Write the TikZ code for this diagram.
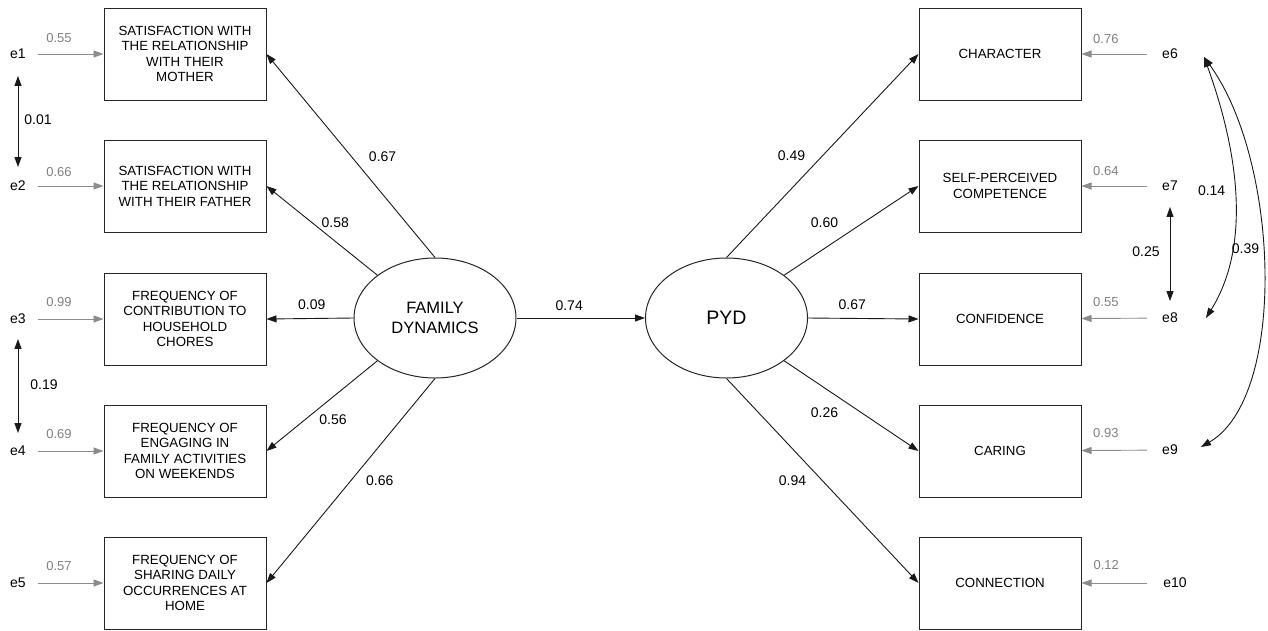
\documentclass[tikz,border=0pt]{standalone}
\usepackage{fontspec}
\setmainfont{Liberation Sans}
\usetikzlibrary{shapes.geometric,arrows.meta}
\begin{document}
\begin{tikzpicture}[x=1pt,y=-1pt,
  box/.style={draw=black!85, line width=1pt, minimum width=162pt, minimum height=92pt, inner sep=0pt, align=center, font=\fontsize{13.3}{15.6}\selectfont},
  lat/.style={draw=black!85, line width=1pt, ellipse, minimum width=162pt, minimum height=120pt, inner sep=0pt, align=center},
  err/.style={inner sep=2pt, text height=9.5pt, text depth=0pt, font=\fontsize{14}{15}\selectfont},
  tip/.tip={Triangle[length=10pt,width=7pt]},
  arr/.style={line width=0.9pt, draw=black!90, -tip},
  garr/.style={line width=0.9pt, draw=black!45, -tip},
  dbl/.style={line width=0.9pt, draw=black!90, tip-tip},
  lbl/.style={font=\fontsize{14}{15}\selectfont, inner sep=0pt},
  glbl/.style={font=\fontsize{13}{14}\selectfont, text=black!50, inner sep=0pt},
]
\useasboundingbox (0,0) rectangle (1268,630);
\fill[white] (0,0) rectangle (1268,630);

% latent variables
\node[lat, font=\fontsize{16.5}{20}\selectfont] (fd) at (435,318) {FAMILY\\DYNAMICS};
\node[lat, font=\fontsize{19.5}{22}\selectfont] (pyd) at (726.5,318) {PYD};

% left indicators
\node[box] (b1) at (185,54) {SATISFACTION WITH\\THE RELATIONSHIP\\WITH THEIR\\MOTHER};
\node[box] (b2) at (185,186) {SATISFACTION WITH\\THE RELATIONSHIP\\WITH THEIR FATHER};
\node[box] (b3) at (185,319) {FREQUENCY OF\\CONTRIBUTION TO\\HOUSEHOLD\\CHORES};
\node[box] (b4) at (185,451) {FREQUENCY OF\\ENGAGING IN\\FAMILY ACTIVITIES\\ON WEEKENDS};
\node[box] (b5) at (185,583) {FREQUENCY OF\\SHARING DAILY\\OCCURRENCES AT\\HOME};

% right indicators
\node[box] (b6) at (1000,54) {CHARACTER};
\node[box] (b7) at (1000,186) {SELF-PERCEIVED\\COMPETENCE};
\node[box] (b8) at (1000,319) {CONFIDENCE};
\node[box] (b9) at (1000,451) {CARING};
\node[box] (b10) at (1000,583) {CONNECTION};

% error terms
\node[err] (e1) at (18,54) {e1};
\node[err] (e2) at (18,186) {e2};
\node[err] (e3) at (18,319) {e3};
\node[err] (e4) at (18,451) {e4};
\node[err] (e5) at (18,583) {e5};
\node[err] (e6) at (1170,54) {e6};
\node[err] (e7) at (1170,186) {e7};
\node[err] (e8) at (1170,318) {e8};
\node[err] (e9) at (1170,450) {e9};
\node[err] (e10) at (1175,583) {e10};

% loadings
\draw[arr] (fd.north) -- (b1.east) node[lbl,pos=0.495,xshift=31pt] (l1) {0.67};
\draw[arr] (fd.north west) -- (b2.east) node[lbl,pos=0.38,yshift=19pt] (l2) {0.58};
\draw[arr] (fd.west) -- (b3.east) node[lbl,pos=0.48,yshift=14pt] (l3) {0.09};
\draw[arr] (fd.south west) -- (b4.east) node[lbl,pos=0.4,yshift=-23pt] (l4) {0.56};
\draw[arr] (fd.south) -- (b5.east) node[lbl,pos=0.5,xshift=29pt] (l5) {0.66};
\draw[arr] (fd.east) -- (pyd.west) node[lbl,pos=0.41,yshift=12pt] (l0) {0.74};
\draw[arr] (pyd.north) -- (b6.west) node[lbl,pos=0.5,xshift=-31pt] (l6) {0.49};
\draw[arr] (pyd.north east) -- (b7.west) node[lbl,pos=0.3,yshift=26pt] (l7) {0.60};
\draw[arr] (pyd.east) -- (b8.west) node[lbl,pos=0.4,yshift=14pt] (l8) {0.67};
\draw[arr] (pyd.south east) -- (b9.west) node[lbl,pos=0.3,yshift=-25pt] (l9) {0.26};
\draw[arr] (pyd.south) -- (b10.west) node[lbl,pos=0.5,xshift=-30pt] (l10) {0.94};

% error arrows
\draw[garr, shorten <=10pt] (e1) -- (b1) node[glbl,pos=0.41,yshift=16pt] (g1) {0.55};
\draw[garr, shorten <=10pt] (e2) -- (b2) node[glbl,pos=0.41,yshift=14pt] (g2) {0.66};
\draw[garr, shorten <=10pt] (e3) -- (b3) node[glbl,pos=0.41,yshift=17pt] (g3) {0.99};
\draw[garr, shorten <=10pt] (e4) -- (b4) node[glbl,pos=0.41,yshift=17pt] (g4) {0.69};
\draw[garr, shorten <=10pt] (e5) -- (b5) node[glbl,pos=0.41,yshift=17pt] (g5) {0.57};
\draw[garr, shorten <=13pt] (e6) -- (b6) node[glbl,pos=0.69,yshift=15pt] (g6) {0.76};
\draw[garr, shorten <=13pt] (e7) -- (b7) node[glbl,pos=0.69,yshift=15pt] (g7) {0.64};
\draw[garr, shorten <=13pt] (e8) -- (b8) node[glbl,pos=0.69,yshift=16pt] (g8) {0.55};
\draw[garr, shorten <=13pt] (e9) -- (b9) node[glbl,pos=0.69,yshift=17pt] (g9) {0.93};
\draw[garr, shorten <=14pt] (e10) -- (b10) node[glbl,pos=0.69,yshift=18pt] (g10) {0.12};

% covariances
\draw[dbl, shorten <=15pt, shorten >=12pt] (e1.south) -- (e2.north) node[lbl,pos=0.5,xshift=20pt] (c12) {0.01};
\draw[dbl, shorten <=13pt, shorten >=11pt] (e3.south) -- (e4.north) node[lbl,pos=0.5,xshift=26pt] (c34) {0.19};
\draw[dbl, shorten <=14pt, shorten >=10pt] (e7.south) -- (e8.north) node[lbl,pos=0.5,xshift=-24pt] (c78) {0.25};
\draw[dbl] ([xshift=24pt,yshift=-3pt]e6.east) .. controls +(31,85) and +(48,-77) .. ([xshift=26pt,yshift=0pt]e8.east) node[lbl,pos=0.5,xshift=-23pt] (c68) {0.14};
\draw[dbl] ([xshift=24pt,yshift=-3pt]e6.east) .. controls +(76,105) and +(86,-50) .. ([xshift=21pt,yshift=3pt]e9.east) node[lbl,pos=0.45,xshift=-17pt] (c69) {0.39};
\end{tikzpicture}
\end{document}
